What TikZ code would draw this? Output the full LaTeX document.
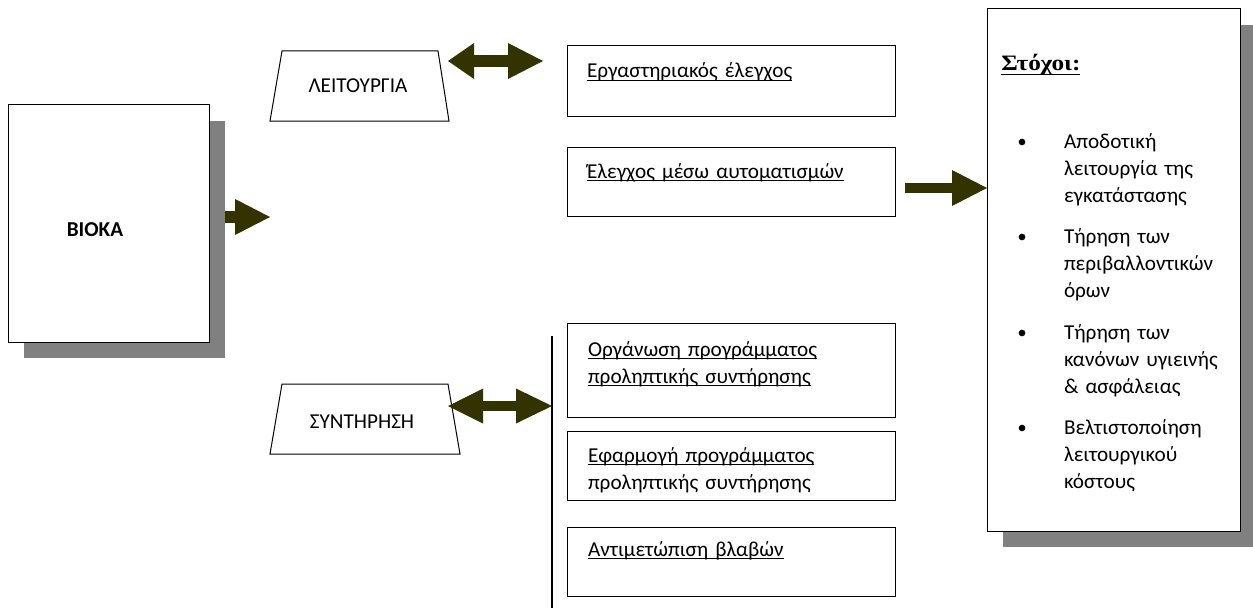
\documentclass[tikz,border=0pt]{standalone}
\usepackage{fontspec}
\setmainfont{Carlito}
\newfontfamily\goalfont[FakeStretch=1.15]{Liberation Serif}
\usetikzlibrary{arrows.meta}
\definecolor{arrowolive}{RGB}{51,51,0}
\definecolor{shadowgray}{RGB}{128,128,128}
\newlength\ulw
\newcommand\ulx[1]{\leavevmode\settowidth\ulw{#1}\rlap{\rule[-2.3pt]{\ulw}{0.75pt}}#1}
\newcommand\ulthick[1]{\leavevmode\settowidth\ulw{#1}\rlap{\rule[-3.2pt]{\ulw}{1.1pt}}#1}
\newcommand\txtsize{\fontsize{15.9}{20.25}\selectfont}
\begin{document}
\begin{tikzpicture}[x=0.75pt,y=-0.75pt,
  box/.style={draw=black,line width=0.75pt,fill=white,inner sep=0pt,outer sep=0pt,anchor=north west},
  shadowfill/.style={fill=shadowgray},
  lbl/.style={font=\txtsize,inner sep=0pt,outer sep=0pt,anchor=base west,text width=260pt,align=left},
  ctr/.style={font=\txtsize,inner sep=0pt,outer sep=0pt,anchor=base},
  fat/.style={draw=arrowolive,fill=arrowolive,line width=9pt},
  thinfat/.style={draw=arrowolive,fill=arrowolive,line width=7.5pt},
  trap/.style={draw=black,line width=0.75pt,fill=white,line join=miter},
  bul/.style={fill=black}
]
\useasboundingbox (0,0) rectangle (1253,610);

% BIOKA
\fill[shadowfill] (24,121) rectangle (225,358);
\node[box,minimum width=150.75pt,minimum height=177.75pt] (bioka) at (8,105) {};
\node[ctr,font=\txtsize\bfseries] (biokat) at (95,236) {ΒΙΟΚΑ};
\coordinate (bkstart) at (225,217);
\coordinate (bkend) at (270,217);
\draw[fat,-{Triangle[length=26.25pt,width=27pt,line width=0pt]}] (bkstart) -- (bkend);

% trapezia
\draw[trap] (282,51) -- (438,51) -- (449,121) -- (270,121) -- cycle;
\node[ctr] (leit) at (358,93) {ΛΕΙΤΟΥΡΓΙΑ};
\draw[trap] (282,384) -- (448,384) -- (460,454) -- (270,454) -- cycle;
\node[ctr] (synt) at (362,428) {ΣΥΝΤΗΡΗΣΗ};

% middle boxes
\node[box,minimum width=246pt,minimum height=52.5pt] (b1) at (567,46) {};
\node[lbl] (t1) at (587,78) {\ulx{Εργαστηριακός έλεγχος}};
\node[box,minimum width=246pt,minimum height=51.75pt] (b2) at (567,147) {};
\node[lbl] (t2) at (587,178) {\ulx{Έλεγχος μέσω αυτοματισμών}};
\node[box,minimum width=246pt,minimum height=70.5pt] (b3) at (567,323) {};
\node[lbl] (t3) at (588,356) {\ulx{Οργάνωση προγράμματος}\\\ulx{προληπτικής συντήρησης}};
\node[box,minimum width=246pt,minimum height=51.75pt] (b4) at (567,431) {};
\node[lbl] (t4) at (588,462) {\ulx{Εφαρμογή προγράμματος}\\προληπτικής συντήρησης};
\node[box,minimum width=246pt,minimum height=51.75pt] (b5) at (567,527) {};
\node[lbl] (t5) at (588,556) {\ulx{Αντιμετώπιση βλαβών}};

% double arrows and bar
\coordinate (l1) at (448,61);
\coordinate (r1) at (543,61);
\draw[fat,{Triangle[length=19.5pt,width=27pt,line width=0pt]}-{Triangle[length=26.25pt,width=27pt,line width=0pt]}] (l1) -- (r1);
\coordinate (vt) at (552,336);
\coordinate (vb) at (552,608);
\draw[line width=1pt] (vt) -- (vb);
\coordinate (l2) at (448,406);
\coordinate (r2) at (vt |- l2);
\draw[thinfat,{Triangle[length=26.25pt,width=26.25pt,line width=0pt]}-{Triangle[length=27pt,width=26.25pt,line width=0pt]}] (l2) -- (r2);

% goals
\fill[shadowfill] (1003,25) rectangle (1253,547);
\node[box,minimum width=189.75pt,minimum height=391.5pt] (goals) at (987,9) {};
\coordinate (ga) at (905,188);
\draw[thinfat,-{Triangle[length=26.25pt,width=27pt,line width=0pt]}] (ga) -- (goals.west |- ga);
\node[anchor=base west,inner sep=0pt,font=\goalfont\bfseries\fontsize{16.5}{18}\selectfont] (gtitle) at (1001,71) {\ulthick{Στόχοι:}};
\fill[bul] (1022,142) circle[radius=2.5pt];
\node[lbl,text width=140pt] (g1) at (1064,148) {Αποδοτική\\λειτουργία της\\εγκατάστασης};
\fill[bul] (1022,237) circle[radius=2.5pt];
\node[lbl,text width=140pt] (g2) at (1064,243) {Τήρηση των\\περιβαλλοντικών\\όρων};
\fill[bul] (1022,333) circle[radius=2.5pt];
\node[lbl,text width=140pt] (g3) at (1064,339) {Τήρηση των\\κανόνων υγιεινής\\\& ασφάλειας};
\fill[bul] (1022,428) circle[radius=2.5pt];
\node[lbl,text width=140pt] (g4) at (1064,434) {Βελτιστοποίηση\\λειτουργικού\\κόστους};
\end{tikzpicture}
\end{document}
